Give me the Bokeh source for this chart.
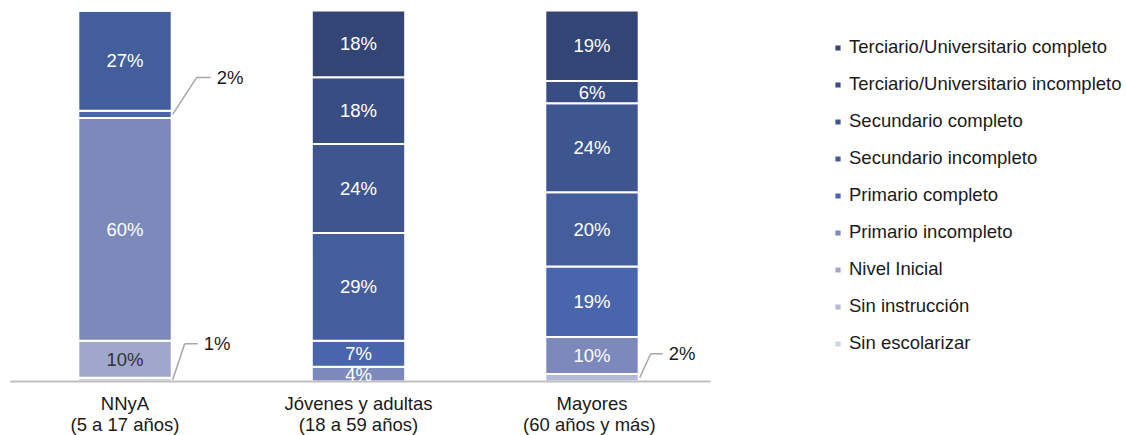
from bokeh.plotting import figure
from bokeh.models import Range1d, Legend, LegendItem, ColumnDataSource
from bokeh.core.properties import value
from bokeh.embed import file_html
from bokeh.resources import INLINE

# ---------------- data ----------------
groups = ["NNyA\n(5 a 17 años)", "Jóvenes y adultas\n(18 a 59 años)", "Mayores\n(60 años  y más)"]
levels = ["Sin escolarizar", "Sin instrucción", "Nivel Inicial", "Primario incompleto",
          "Primario completo", "Secundario incompleto", "Secundario completo",
          "Terciario/Universitario incompleto", "Terciario/Universitario completo"]
sin_escolarizar = [1, 0, 0]
sin_instruccion = [0, 0, 2]
nivel_inicial = [10, 0, 0]
primario_incompleto = [60, 4, 10]
primario_completo = [2, 7, 19]
secundario_incompleto = [27, 29, 20]
secundario_completo = [0, 24, 24]
terciario_incompleto = [0, 18, 6]
terciario_completo = [0, 18, 19]
series = [sin_escolarizar, sin_instruccion, nivel_inicial, primario_incompleto,
          primario_completo, secundario_incompleto, secundario_completo,
          terciario_incompleto, terciario_completo]

# ---------------- style ----------------
colors = ["#cdd1e4", "#b3b9d7", "#9fa7cc", "#7d89bb", "#4966ad",
          "#445e9c", "#3e5690", "#384d84", "#324574"]
label_colors = ["white", "white", "#333333", "white", "white",
                "white", "white", "white", "white"]
FONT = value("Liberation Sans")
FS = "18.5px"
PX_X = 233.5   # px per x unit
PX_Y = 3.71    # px per y unit
X0_PX = 7.75   # px position of x = -0.5
BASE_PX = 381  # px position of y = 0
# callout leader offsets in px: (diag dx, diag dy, horizontal length)
callout_style = {(0, 4): (24, 37, 14), (0, 0): (12, 36, 13), (2, 1): (11, 24, 12)}

xs = list(range(len(groups)))
keys = [f"s{i}" for i in range(len(levels))]
data = {"x": xs}
for k, s in zip(keys, series):
    data[k] = s
src = ColumnDataSource(data)

W, H = 1124, 435
x_start = -0.5 - X0_PX / PX_X
y_top = 100 + 10 / PX_Y
y_bot = -(H - BASE_PX) / PX_Y
p = figure(width=W, height=H, output_backend="svg", toolbar_location=None,
           x_range=Range1d(x_start, x_start + W / PX_X), y_range=Range1d(y_bot, y_top),
           min_border=0)
p.background_fill_color = "white"
p.border_fill_color = "white"
p.outline_line_color = None
p.grid.visible = False
p.axis.visible = False

rs = p.vbar_stack(keys, x="x", width=0.4, fill_color=colors, line_color="white",
                  line_width=2, source=src)

# baseline
p.segment(x0=[-0.5 + 2 / PX_X], x1=[2.5 + 2 / PX_X], y0=[0], y1=[0],
          line_color="#bfbfbf", line_width=2)

# labels
in_x, in_y, in_t, in_c = [], [], [], []
lx0, ly0, lx1, ly1 = [], [], [], []
cx, cy, ct = [], [], []
for g in xs:
    bottom = 0
    for i, s in enumerate(series):
        v = s[g]
        if v > 0:
            mid = bottom + v / 2
            if v >= 4:
                in_x.append(g); in_y.append(mid); in_t.append(f"{v}%"); in_c.append(label_colors[i])
            else:
                dx, dy, hl = callout_style[(g, i)]
                x0 = g + 0.2 + 1 / PX_X
                y0 = mid
                x1 = x0 + dx / PX_X
                y1 = y0 + dy / PX_Y
                x2 = x1 + hl / PX_X
                lx0 += [x0, x1]; ly0 += [y0, y1]; lx1 += [x1, x2]; ly1 += [y1, y1]
                cx.append(x2 + 6 / PX_X); cy.append(y1); ct.append(f"{v}%")
        bottom += v

p.text(x=in_x, y=in_y, text=in_t, text_color=in_c, text_font=FONT, text_font_size=FS,
       text_align="center", text_baseline="middle")
p.segment(x0=lx0, y0=ly0, x1=lx1, y1=ly1, line_color="#a6a6a6", line_width=1.5)
p.text(x=cx, y=cy, text=ct, text_color="#1a1a1a", text_font=FONT, text_font_size=FS,
       text_align="left", text_baseline="middle")

# category labels (below baseline)
p.text(x=xs, y=[-(413 - BASE_PX) / PX_Y] * len(xs), text=groups, text_color="#1a1a1a",
       text_font=FONT, text_font_size=FS, text_align="center", text_baseline="middle",
       text_line_height=1.0)

# legend
items = [LegendItem(label=levels[i], renderers=[rs[i]]) for i in reversed(range(len(levels)))]
legend = Legend(items=items, location=(833, H - 36 - (9 * 22 + 8 * 15)), orientation="vertical",
                glyph_width=9, glyph_height=9, label_height=21, spacing=15,
                label_standoff=7, padding=0, margin=0,
                border_line_color=None, background_fill_alpha=0,
                label_text_font="Liberation Sans", label_text_font_size=FS,
                label_text_color="#1a1a1a")
p.add_layout(legend, "center")

open("out.html", "w").write(file_html(p, INLINE))
